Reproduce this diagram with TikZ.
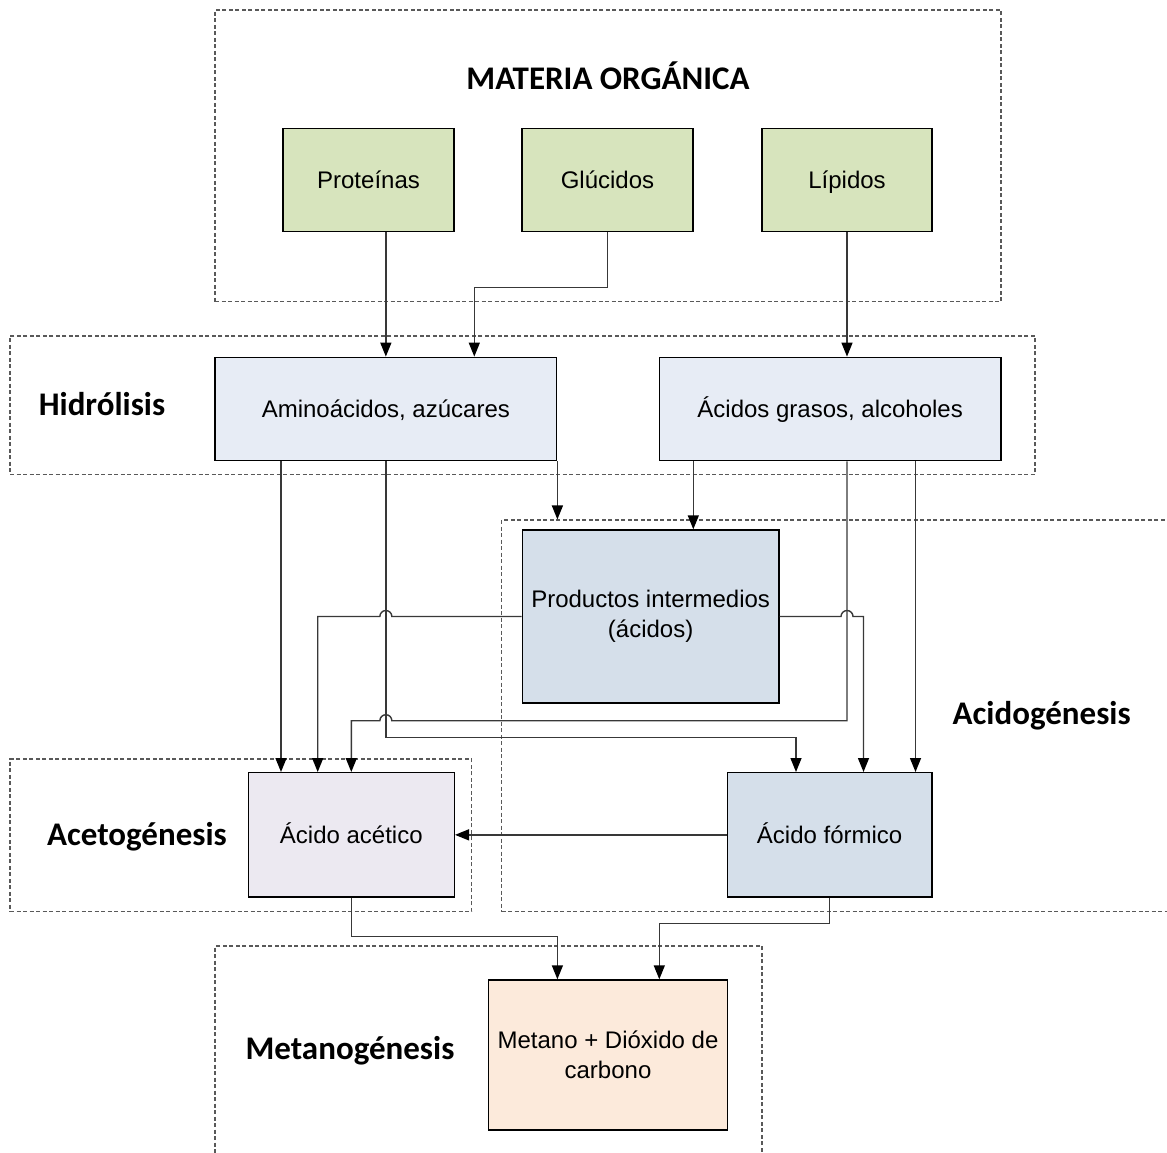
\documentclass[tikz,border=0pt]{standalone}
\usepackage{fontspec}
\setmainfont{Liberation Sans}
\newfontfamily\stagefont{Carlito}
\usetikzlibrary{arrows.meta,calc}

\definecolor{organic}{HTML}{D7E4BD}
\definecolor{hydro}{HTML}{E7ECF5}
\definecolor{acid}{HTML}{D5DFEA}
\definecolor{acetic}{HTML}{ECE9F1}
\definecolor{methane}{HTML}{FCEADB}
\definecolor{linegray}{HTML}{383838}

\begin{document}
\begin{tikzpicture}[x=1pt,y=-1pt,
  zone/.style={draw=black!65, line width=1.1pt, dash pattern=on 4pt off 2.5pt, inner sep=0pt},
  stagebox/.style={draw=black, line width=1.4pt, inner sep=0pt, align=center,
                   font=\fontsize{24}{30}\selectfont},
  single/.style={text height=20pt, text depth=3pt},
  stage/.style={anchor=base, inner sep=0pt, font=\stagefont\bfseries\fontsize{33}{40}\selectfont},
  conn/.style={draw=linegray, line width=1.4pt,
               -{Triangle[length=14pt,width=11pt,color=black,fill=black]}}
]
\useasboundingbox (0,0) rectangle (1167,1152);
\clip (0,0) rectangle (1167,1152);

% dashed stage regions
\node[zone, minimum width=786, minimum height=291.7] (zmat) at (608,155.85) {};
\node[zone, minimum width=1025, minimum height=138.3] (zhid) at (522.5,405.15) {};
\node[zone, minimum width=678.3, minimum height=391.7] (zacid) at (840.85,715.85) {};
\node[zone, minimum width=461.7, minimum height=152.7] (zacet) at (240.85,835.35) {};
\node[zone, minimum width=547, minimum height=224] (zmet) at (488.5,1058) {};

% stage titles
\node[stage] (tmat) at (608,89) {MATERIA ORGÁNICA};
\node[stage] (thid) at (102,415) {Hidrólisis};
\node[stage] (tacid) at (1041.7,724) {Acidogénesis};
\node[stage] (tacet) at (137,845) {Acetogénesis};
\node[stage] (tmet) at (350,1059) {Metanogénesis};

% substances
\node[stagebox, single, fill=organic, minimum width=171, minimum height=103.4] (prot) at (368.5,180) {Proteínas};
\node[stagebox, single, fill=organic, minimum width=171, minimum height=103.4] (gluc) at (607.5,180) {Glúcidos};
\node[stagebox, single, fill=organic, minimum width=170, minimum height=103.4] (lip) at (847,180) {Lípidos};
\node[stagebox, single, fill=hydro, minimum width=341.7, minimum height=103.4] (amino) at (385.85,409) {Aminoácidos, azúcares};
\node[stagebox, single, fill=hydro, minimum width=341.7, minimum height=103.4] (grasos) at (830.15,409) {Ácidos grasos, alcoholes};
\node[stagebox, fill=acid, minimum width=256.7, minimum height=173] (prod) at (650.65,616.5)
  {\raisebox{-2.5pt}{Productos intermedios}\\\raisebox{-2.5pt}{(ácidos)}};
\node[stagebox, single, fill=acetic, minimum width=206, minimum height=124.3] (acet) at (351.3,834.85) {Ácido acético};
\node[stagebox, single, fill=acid, minimum width=204.7, minimum height=124.3] (form) at (829.65,834.85) {Ácido fórmico};
\node[stagebox, fill=methane, minimum width=239, minimum height=150] (met) at (608,1055) {Metano + Dióxido de\\carbono};

% routing columns and rows
\coordinate (gk) at (474.3,287.3);
\coordinate (cA) at (281,0);
\coordinate (cB) at (317.7,0);
\coordinate (cD) at (796,0);
\coordinate (cF) at (863.5,0);
\coordinate (cG) at (915.5,0);
\coordinate (cH) at (693.3,0);
\coordinate (cQ) at (659.3,0);
\coordinate (rK) at (0,720.7);
\coordinate (rL) at (0,737.7);
\coordinate (rM) at (0,936.7);
\coordinate (rN) at (0,923.3);

% hydrolysis
\draw[conn] (prot.south -| amino.north) -- (amino.north);
\draw[conn] (gluc.south) |- (gk) -- (gk |- amino.north);
\draw[conn] (lip.south) -- (lip.south |- grasos.north);

% from amino acids and sugars
\draw[conn] (amino.south -| cA) -- (acet.north -| cA);
\draw[conn] (amino.south east) -- (amino.south east |- zacid.north);
\draw[conn] (amino.south) |- (rL -| cD) -- (form.north -| cD);

% from fatty acids and alcohols
\draw[conn] (grasos.south -| cH) -- (prod.north -| cH);
\draw[conn] (grasos.south -| lip.south) -- (rK -| lip.south)
  -- ($(rK -| amino.south)+(6,0)$) arc[start angle=0,end angle=180,radius=6pt]
  -- (rK -| acet.north) -- (acet.north);
\draw[conn] (grasos.south -| cG) -- (form.north -| cG);

% from intermediate products
\draw[conn] (prod.west) -- ($(prod.west -| amino.south)+(6,0)$)
  arc[start angle=0,end angle=180,radius=6pt]
  -- (prod.west -| cB) -- (acet.north -| cB);
\draw[conn] (prod.east) -- ($(prod.east -| lip.south)-(6,0)$)
  arc[start angle=180,end angle=0,radius=6pt]
  -- (prod.east -| cF) -- (form.north -| cF);

% acetogenesis and methanogenesis
\draw[conn] (form.west) -- (acet.east);
\draw[conn] (acet.south) |- (rM -| amino.south east) -- (met.north -| amino.south east);
\draw[conn] (form.south) |- (rN -| cQ) -- (met.north -| cQ);
\end{tikzpicture}
\end{document}
